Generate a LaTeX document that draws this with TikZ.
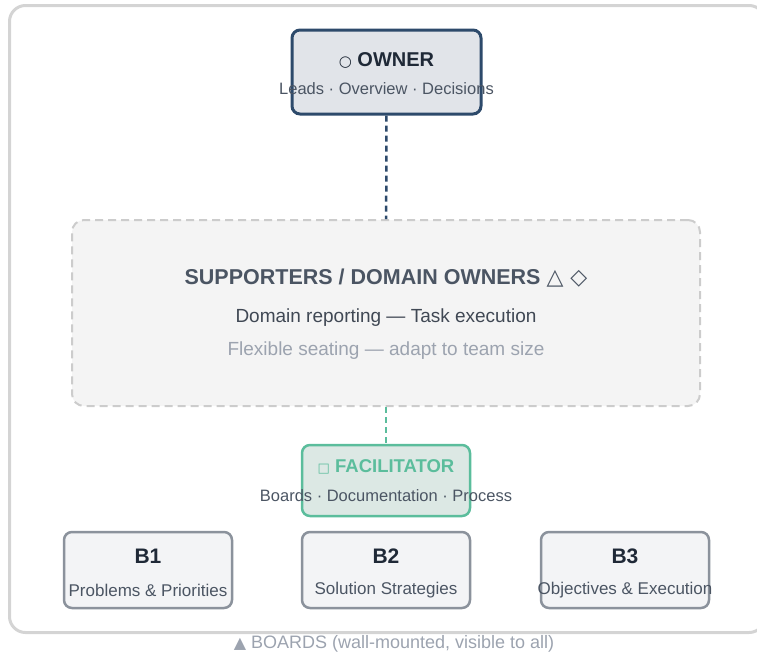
\documentclass[tikz,border=0pt]{standalone}
\usepackage{fontspec}
\setmainfont{Liberation Sans}
\newfontfamily\symfont{DejaVu Sans}
\definecolor{frameg}{HTML}{D4D4D4}
\definecolor{navy}{HTML}{2D4A6B}
\definecolor{ownfill}{HTML}{E1E4E9}
\definecolor{inkd}{HTML}{1F2937}
\definecolor{inkm}{HTML}{4B5563}
\definecolor{inkl}{HTML}{9CA3AF}
\definecolor{supfill}{HTML}{F4F4F4}
\definecolor{supline}{HTML}{CCCCCC}
\definecolor{teal}{HTML}{5BBD9C}
\definecolor{facfill}{HTML}{DCE8E4}
\definecolor{brdfill}{HTML}{F3F4F6}
\definecolor{brdline}{HTML}{8B929C}

\begin{document}
\begin{tikzpicture}[x=1pt,y=-1pt,
    box/.style={draw,rounded corners=8pt,line width=2.5pt,inner sep=0pt},
    obox/.style={box,draw=navy,fill=ownfill,line width=3pt,minimum width=189pt,minimum height=84pt},
    fbox/.style={box,draw=teal,fill=facfill,minimum width=168pt,minimum height=71pt},
    bbox/.style={box,draw=brdline,fill=brdfill,minimum width=168pt,minimum height=76pt},
    ttl/.style={font=\fontsize{20}{24}\selectfont\bfseries,text=inkd},
    sub/.style={font=\fontsize{16.5}{19}\selectfont,text=inkm}]
    \useasboundingbox (0,0) rectangle (757,654);
    \clip (0,0) rectangle (757,654);
    \draw[frameg,line width=3pt,rounded corners=16pt] (9.5,5.5) rectangle (765,632.5);

    % owner
    \node[obox] (own) at (386.5,72) {};
    \node[ttl] (ownt) at (386.5,60) {{\symfont\mdseries\fontsize{15}{17}\selectfont ○} OWNER};
    \node[sub] (owns) at (386.5,89) {Leads · Overview · Decisions};

    % supporters
    \node[draw=supline,fill=supfill,dashed,dash pattern=on 8pt off 5pt,line width=2pt,
          rounded corners=12pt,minimum width=628pt,minimum height=186pt] (sup) at (386,313) {};
    \node[font=\fontsize{21.5}{25}\selectfont\bfseries,text=inkm] (supt) at (386,278)
        {SUPPORTERS / DOMAIN OWNERS {\symfont\mdseries\fontsize{22}{24}\selectfont △ ◇}};
    \node[font=\fontsize{19}{22}\selectfont,text=inkm!85!black] (sup1) at (386,318) {Domain reporting — Task execution};
    \node[font=\fontsize{19}{22}\selectfont,text=inkl] (sup2) at (386,351) {Flexible seating — adapt to team size};

    % facilitator
    \node[fbox] (fac) at (386,480.5) {};
    \node[ttl,text=teal,font=\fontsize{18.5}{22}\selectfont\bfseries] (fact) at (386,467)
        {{\symfont\mdseries\fontsize{13}{15}\selectfont □} FACILITATOR};
    \node[sub] (facs) at (386,496) {Boards · Documentation · Process};

    % boards
    \node[bbox] (b1) at (148,570) {};
    \node[bbox] (b2) at (386,570) {};
    \node[bbox] (b3) at (625,570) {};
    \node[ttl,font=\fontsize{21}{25}\selectfont\bfseries] (b1t) at (148,556) {B1};
    \node[ttl,font=\fontsize{21}{25}\selectfont\bfseries] (b2t) at (386,556) {B2};
    \node[ttl,font=\fontsize{21}{25}\selectfont\bfseries] (b3t) at (625,556) {B3};
    \node[sub,font=\fontsize{17}{20}\selectfont] (b1s) at (148,590) {Problems \& Priorities};
    \node[sub,font=\fontsize{17}{20}\selectfont] (b2s) at (386,590) {Solution Strategies};
    \node[sub,font=\fontsize{17}{20}\selectfont] (b3s) at (625,590) {Objectives \& Execution};

    \node[font=\fontsize{18}{21}\selectfont,text=inkl] (cap) at (394,644)
        {{\symfont\fontsize{16}{18}\selectfont ▲} BOARDS (wall-mounted, visible to all)};

    \draw[navy,line width=2.5pt,dashed,dash pattern=on 6pt off 4pt] (own) -- (sup);
    \draw[teal,line width=2.5pt,dashed,dash pattern=on 6pt off 4pt] (sup) -- (fac);
\end{tikzpicture}
\end{document}
